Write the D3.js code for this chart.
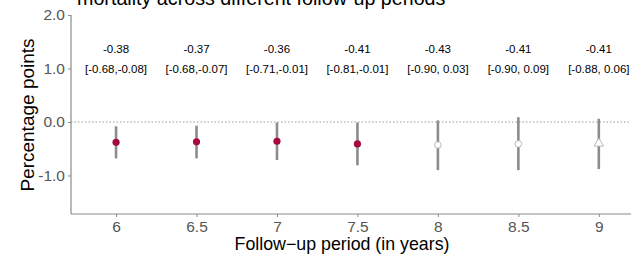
<!DOCTYPE html>
<html><head><meta charset="utf-8">
<script src="https://cdn.jsdelivr.net/npm/d3@7"></script>
<style>body{margin:0;background:#fff}svg{display:block;font-family:"Liberation Sans",Arial,sans-serif}</style>
</head><body>
<script>
const periods = [6, 6.5, 7, 7.5, 8, 8.5, 9];
const estimates = [-0.38, -0.37, -0.36, -0.41, -0.43, -0.41, -0.41];
const lower = [-0.68, -0.68, -0.71, -0.81, -0.90, -0.90, -0.88];
const upper = [-0.08, -0.07, -0.01, -0.01, 0.03, 0.09, 0.06];
const shapes = ["filled", "filled", "filled", "filled", "open", "open", "triangle"];
const xTicks = [6, 6.5, 7, 7.5, 8, 8.5, 9];
const yTicks = [2.0, 1.0, 0.0, -1.0];
const title = "mortality across different follow-up periods";

const W = 631, H = 262;
const svg = d3.select("body").append("svg").attr("width", W).attr("height", H);
const x = d3.scaleLinear().domain([5.72, 9.2]).range([71, 631]);
const y = d3.scaleLinear().domain([-1.72, 2.0]).range([214, 15]);

svg.append("text").attr("x", 77).attr("y", 4.5).attr("font-size", 19.7).attr("fill", "#000").text(title);

// zero line
svg.append("line").attr("x1", 71).attr("x2", W).attr("y1", y(0)).attr("y2", y(0))
  .attr("stroke", "#999").attr("stroke-width", 1).attr("stroke-dasharray", "1.5,2");

// axes
const gx = svg.append("g").attr("transform", `translate(0,${214})`)
  .call(d3.axisBottom(x).tickValues(xTicks).tickFormat(d => String(d)).tickSize(3).tickSizeOuter(0));
const gy = svg.append("g").attr("transform", `translate(71,0)`)
  .call(d3.axisLeft(y).tickValues(yTicks).tickFormat(d3.format(".1f")).tickSize(3).tickSizeOuter(0));
[gx, gy].forEach(g => {
  g.select(".domain").attr("stroke", "#8a8a8a").attr("stroke-width", 1.2);
  g.selectAll(".tick line").attr("stroke", "#8a8a8a");
  g.selectAll(".tick text").attr("fill", "#555").attr("font-size", 15.5).attr("font-family", "Liberation Sans, Arial, sans-serif");
});
gx.selectAll(".tick text").attr("y", 17.5).attr("dy", 0);
gy.selectAll(".tick text").attr("x", -6).text(d => d3.format(".1f")(d).replace("\u2212", "-"));
gx.select(".domain").attr("d", `M71,0H${W}`);
gy.select(".domain").attr("d", `M0,15V214`);

// axis titles
svg.append("text").attr("x", 342).attr("y", 249.5).attr("text-anchor", "middle").attr("font-size", 17.8).text("Follow\u2212up period (in years)");
svg.append("text").attr("transform", `translate(34,${115}) rotate(-90)`).attr("text-anchor", "middle").attr("font-size", 19).text("Percentage points");

// error bars
svg.selectAll(".eb").data(periods).enter().append("line")
  .attr("x1", d => x(d)).attr("x2", d => x(d))
  .attr("y1", (d, i) => y(lower[i])).attr("y2", (d, i) => y(upper[i]))
  .attr("stroke", "#8c8c8c").attr("stroke-width", 2.6);

// points
periods.forEach((p, i) => {
  const cx = x(p), cy = y(estimates[i]);
  if (shapes[i] === "filled") {
    svg.append("circle").attr("cx", cx).attr("cy", cy).attr("r", 3.6).attr("fill", "#A6093D");
  } else if (shapes[i] === "open") {
    svg.append("circle").attr("cx", cx).attr("cy", cy).attr("r", 3.3).attr("fill", "#fff").attr("stroke", "#aaa").attr("stroke-width", 0.8);
  } else {
    svg.append("path").attr("d", d3.symbol().type(d3.symbolTriangle).size(38)())
      .attr("transform", `translate(${cx},${cy - 0.5})`).attr("fill", "#fff").attr("stroke", "#aaa").attr("stroke-width", 0.8);
  }
});

// labels
const f = v => d3.format(".2f")(v).replace("\u2212", "-");
svg.selectAll(".l1").data(periods).enter().append("text")
  .attr("x", d => x(d)).attr("y", 53).attr("text-anchor", "middle").attr("font-size", 11.5)
  .text((d, i) => f(estimates[i]));
svg.selectAll(".l2").data(periods).enter().append("text")
  .attr("x", d => x(d)).attr("y", 73).attr("text-anchor", "middle").attr("font-size", 11.5)
  .text((d, i) => `[${f(lower[i])},${upper[i] >= 0 ? " " : ""}${f(upper[i])}]`);
</script>
</body></html>
